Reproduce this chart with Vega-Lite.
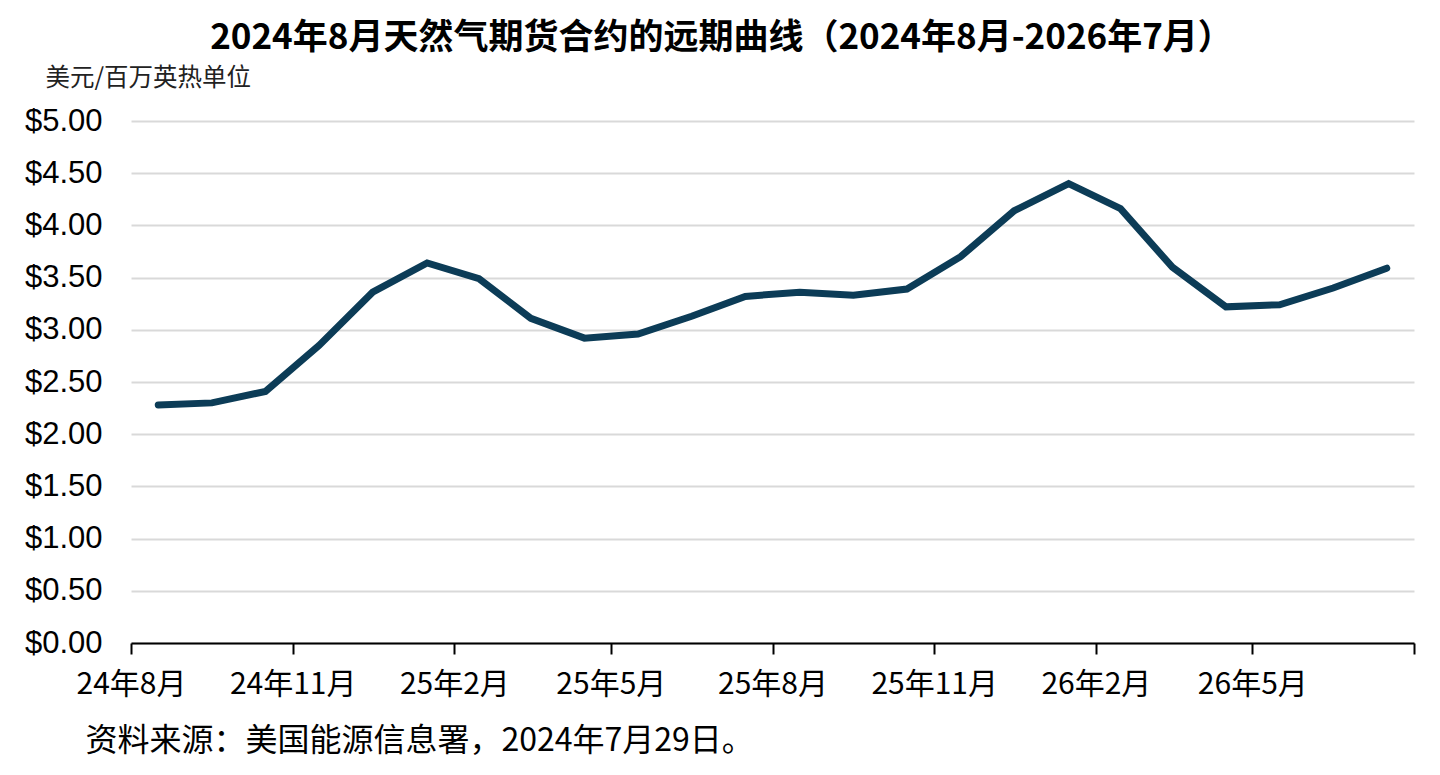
{
  "$schema": "https://vega.github.io/schema/vega-lite/v6.json",
  "width": 1283,
  "height": 522,
  "autosize": {"type": "none"},
  "padding": {"left": 131, "top": 121, "right": 26, "bottom": 132},
  "background": "white",
  "config": {"view": {"stroke": null}},
  "title": {
    "text": "2024年8月天然气期货合约的远期曲线（2024年8月-2026年7月）",
    "font": "Noto Sans CJK SC",
    "fontSize": 35,
    "fontWeight": "bold",
    "color": "#000000",
    "anchor": "middle",
    "dx": -51,
    "offset": 9
  },
  "data": {
    "values": [
      {"month": "2024-08", "price": 2.28},
      {"month": "2024-09", "price": 2.30},
      {"month": "2024-10", "price": 2.41},
      {"month": "2024-11", "price": 2.85},
      {"month": "2024-12", "price": 3.36},
      {"month": "2025-01", "price": 3.64},
      {"month": "2025-02", "price": 3.49},
      {"month": "2025-03", "price": 3.11},
      {"month": "2025-04", "price": 2.92},
      {"month": "2025-05", "price": 2.96},
      {"month": "2025-06", "price": 3.13},
      {"month": "2025-07", "price": 3.32},
      {"month": "2025-08", "price": 3.36},
      {"month": "2025-09", "price": 3.33},
      {"month": "2025-10", "price": 3.39},
      {"month": "2025-11", "price": 3.70},
      {"month": "2025-12", "price": 4.14},
      {"month": "2026-01", "price": 4.40},
      {"month": "2026-02", "price": 4.16},
      {"month": "2026-03", "price": 3.60},
      {"month": "2026-04", "price": 3.22},
      {"month": "2026-05", "price": 3.24},
      {"month": "2026-06", "price": 3.40},
      {"month": "2026-07", "price": 3.59}
    ]
  },
  "mark": {"type": "line", "color": "#0c3c57", "strokeWidth": 7, "strokeJoin": "miter", "strokeCap": "round"},
  "encoding": {
    "x": {
      "field": "month",
      "type": "temporal",
      "timeUnit": "utcyearmonth",
      "bandPosition": 0.5,
      "scale": {
        "type": "utc",
        "domain": [
          {"year": 2024, "month": 8, "date": 1, "utc": true},
          {"year": 2026, "month": 8, "date": 1, "utc": true}
        ]
      },
      "axis": {
        "values": [
          {"year": 2024, "month": 8, "date": 1, "utc": true},
          {"year": 2024, "month": 11, "date": 1, "utc": true},
          {"year": 2025, "month": 2, "date": 1, "utc": true},
          {"year": 2025, "month": 5, "date": 1, "utc": true},
          {"year": 2025, "month": 8, "date": 1, "utc": true},
          {"year": 2025, "month": 11, "date": 1, "utc": true},
          {"year": 2026, "month": 2, "date": 1, "utc": true},
          {"year": 2026, "month": 5, "date": 1, "utc": true},
          {"year": 2026, "month": 8, "date": 1, "utc": true}
        ],
        "labelExpr": "(utcyear(datum.value) == 2026 && utcmonth(datum.value) == 7) ? '' : utcFormat(datum.value, '%y') + '年' + (utcmonth(datum.value) + 1) + '月'",
        "grid": false,
        "domainColor": "#000000",
        "domainWidth": 2,
        "tickColor": "#000000",
        "tickWidth": 2,
        "tickSize": 11,
        "labelFont": "Noto Sans CJK SC",
        "labelFontSize": 30,
        "labelColor": "#000000",
        "labelPadding": 15,
        "labelAlign": "center",
        "labelFlush": false,
        "labelOverlap": false,
        "title": "资料来源：美国能源信息署，2024年7月29日。",
        "titleFont": "Noto Sans CJK SC",
        "titleFontSize": 32,
        "titleFontWeight": "normal",
        "titleColor": "#000000",
        "titleAnchor": "start",
        "titleAlign": "left",
        "titleBaseline": "middle",
        "titleX": -46,
        "titleY": 97
      }
    },
    "y": {
      "field": "price",
      "type": "quantitative",
      "scale": {"domain": [0, 5], "nice": false, "zero": true},
      "axis": {
        "values": [0, 0.5, 1, 1.5, 2, 2.5, 3, 3.5, 4, 4.5, 5],
        "format": "$.2f",
        "domain": false,
        "ticks": false,
        "grid": true,
        "gridColor": "#d9d9d9",
        "gridWidth": 2,
        "labelFont": "Liberation Sans",
        "labelFontSize": 31,
        "labelColor": "#000000",
        "labelPadding": 29,
        "title": "美元/百万英热单位",
        "titleFont": "Noto Sans CJK SC",
        "titleFontSize": 24.5,
        "titleFontWeight": "normal",
        "titleColor": "#222222",
        "titleAngle": 0,
        "titleAlign": "left",
        "titleBaseline": "middle",
        "titleX": -86,
        "titleY": -43
      }
    }
  }
}
